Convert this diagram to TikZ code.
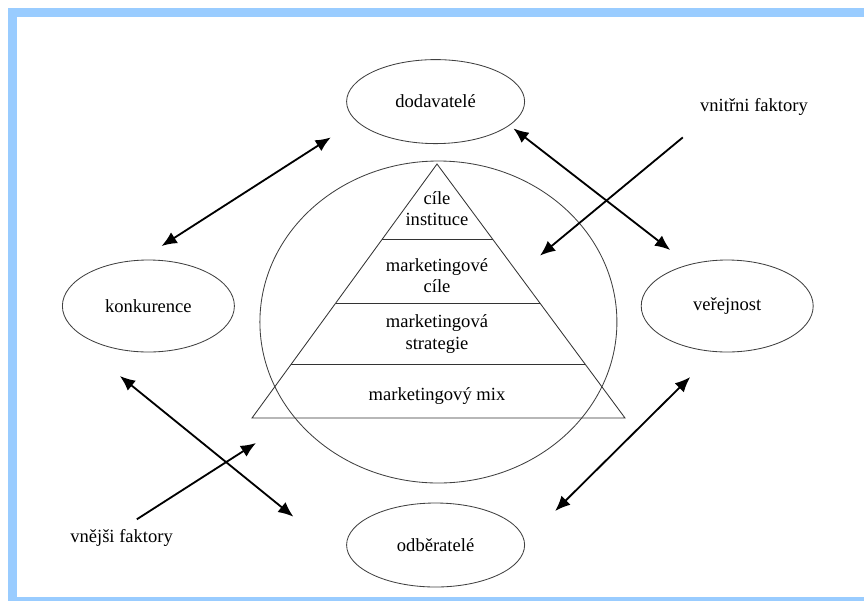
\documentclass[tikz,border=0pt]{standalone}
\usepackage{fontspec}
\setmainfont{Liberation Serif}
\usepackage{tikz}
\usetikzlibrary{arrows.meta,positioning,calc,shapes.geometric}
\definecolor{frameblue}{RGB}{153,204,255}
\tikzset{
  envellipse/.style={draw=black!75, ellipse, line width=0.6pt, minimum width=4.45cm, minimum height=2.1cm, inner sep=0pt, font=\fontsize{13.2}{15}\selectfont},
  levellabel/.style={align=center, inner sep=1pt, font=\fontsize{13.2}{15}\selectfont},
  factorlabel/.style={inner sep=1pt, font=\fontsize{13.2}{15}\selectfont},
  pyramidline/.style={draw=black!80, line width=0.6pt},
  twoway/.style={{Latex[length=3.8mm,width=3.2mm]}-{Latex[length=3.8mm,width=3.2mm]}, line width=1.3pt},
  oneway/.style={-{Latex[length=3.8mm,width=3.2mm]}, line width=1.3pt}
}
\begin{document}
\begin{tikzpicture}
\useasboundingbox (0,0) rectangle (21.6,-15);
\begin{scope}
\clip (0,0) rectangle (21.6,-15);
\draw[frameblue, line width=6.4pt] (0.3125,-0.3125) rectangle (22.5,-15.0375);
\end{scope}
% ring and pyramid
\node[draw=black!75, ellipse, line width=0.6pt, minimum width=8.925cm, minimum height=8.05cm] (ring) at (10.96,-8.05) {};
\coordinate (apex) at (10.925,-4.1);
\coordinate (baseL) at (6.3,-10.45);
\coordinate (baseR) at (15.625,-10.45);
\draw[pyramidline] (apex) -- (baseL) -- (baseR) -- cycle;
\foreach \t in {0.2953,0.5472,0.7874} {
  \draw[pyramidline] ($(apex)!\t!(baseL)$) -- ($(apex)!\t!(baseR)$);
}
\node[levellabel] (goals) at (10.925,-5.225) {cíle\\instituce};
\node[levellabel] (mkgoals) at (10.925,-6.89) {marketingové\\cíle};
\node[levellabel] (strategy) at (10.925,-8.35) {marketingová\\strategie};
\node[levellabel] (mix) at (10.925,-9.9) {marketingový mix};
% surroundings
\node[envellipse] (suppliers) at (10.89,-2.54) {dodavatelé};
\node[envellipse, minimum width=4.3cm, minimum height=2.3cm] (competition) at (3.71,-7.65) {konkurence};
\node[envellipse, minimum width=4.3cm, minimum height=2.3cm] (public) at (18.18,-7.65) {veřejnost};
\node[envellipse] (customers) at (10.89,-13.625) {odběratelé};
\node[factorlabel] (internal) at (18.85,-2.675) {vnitřni faktory};
\node[factorlabel] (external) at (3.04,-13.45) {vnějši faktory};
\coordinate (inward) at (13.5,-6.39);
\coordinate (outward) at (6.4,-11.075);
\draw[twoway] ([shift={(0.33,1.5)}]competition.center) -- ([shift={(-2.62,-0.895)}]suppliers.center);
\draw[twoway] ([shift={(1.945,-0.67)}]suppliers.center) -- ([shift={(-1.425,1.4)}]public.center);
\draw[twoway] ([shift={(-0.925,-1.775)}]public.center) -- ([shift={(2.9875,0.85)}]customers.center);
\draw[twoway] ([shift={(-0.7125,-1.75)}]competition.center) -- ([shift={(-3.555,0.7075)}]customers.center);
\draw[oneway] ([shift={(-1.78,-0.76)}]internal.center) -- (inward);
\draw[oneway] ([shift={(0.38,0.4675)}]external.center) -- (outward);
\end{tikzpicture}
\end{document}
